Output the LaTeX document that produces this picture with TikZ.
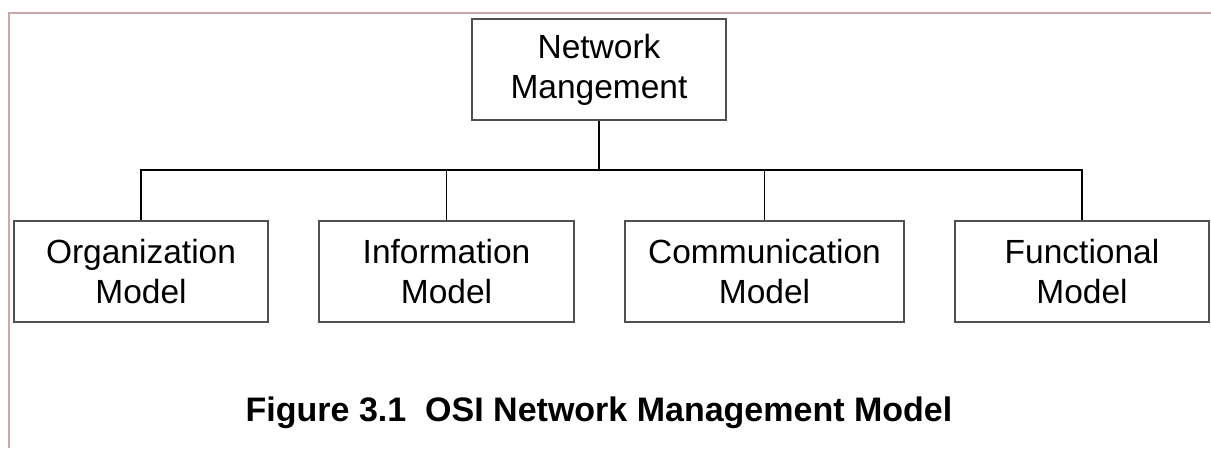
\documentclass[tikz,border=0pt]{standalone}
\usepackage{fontspec}
\setmainfont{Liberation Sans}
\definecolor{frame}{HTML}{C9A9A9}
\definecolor{boxline}{HTML}{505050}
\begin{document}
\begin{tikzpicture}[x=1pt,y=-1pt,
  mbox/.style={draw=boxline,line width=1.3pt,rectangle,minimum height=101pt,inner sep=0pt,align=center,font=\fontsize{33.5}{40}\selectfont},
  conn/.style={draw=black,line width=1.3pt}]
\useasboundingbox (0,0) rectangle (1211,448);
\draw[frame,line width=2pt] (9,448) -- (9,13) -- (1211,13);
\node[mbox,minimum width=254pt] (top) at (599,69.5) {Network\\Mangement};
\node[mbox,minimum width=254pt] (org) at (141,271.5) {Organization\\Model};
\node[mbox,minimum width=255pt] (info) at (446.5,271.5) {Information\\Model};
\node[mbox,minimum width=279pt] (comm) at (764.5,271.5) {Communication\\Model};
\node[mbox,minimum width=254pt] (func) at (1082,271.5) {Functional\\Model};
\coordinate (bus) at (599,170);
\draw[conn] (top.south) -- (top.south |- bus);
\draw[conn] (org.north) -- (org.north |- bus) -- (func.north |- bus) -- (func.north);
\draw[conn] (info.north) -- (info.north |- bus);
\draw[conn] (comm.north) -- (comm.north |- bus);
\node[anchor=base,font=\fontsize{34}{40}\selectfont\bfseries,inner sep=0pt] (cap) at (599,421) {Figure 3.1\ \ OSI Network Management Model};
\end{tikzpicture}
\end{document}
